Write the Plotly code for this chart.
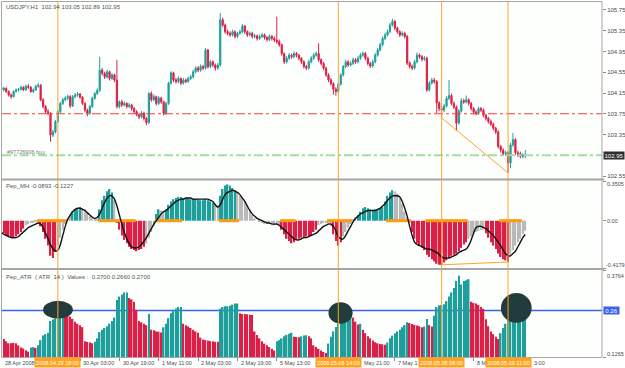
import plotly.graph_objects as go

# ---------------- data ----------------
SYMBOL_TITLE = "USDJPY,H1  102.94 103.05 102.89 102.95"
MH_TITLE = "Pep_MH -0.0893 -0.1227"
ATR_TITLE = "Pep_ATR  ( ATR  14 )  Values :  0.2700 0.2660 0.2700"
ORDER_TEXT = "#97726906 buy"

OPEN_FIRST = 104.25
CLOSE = [
    104.21, 104.24, 104.18, 104.11, 104.08, 104.18, 104.21, 104.22, 104.26, 104.21,
    104.28, 104.26, 104.18, 104.21, 104.28, 104.30, 104.02, 103.89, 103.79, 103.76,
    103.34, 103.40, 103.60, 103.79, 103.95, 104.02, 104.05, 104.08, 103.90, 104.08,
    104.11, 104.13, 104.07, 103.95, 103.82, 103.76, 103.89, 104.05, 104.14, 104.20,
    104.59, 104.53, 104.46, 104.56, 104.43, 104.50, 104.40, 103.89, 103.98, 103.92,
    103.95, 103.89, 103.92, 103.85, 103.79, 103.73, 103.69, 103.76, 103.66, 103.58,
    104.14, 104.02, 104.08, 103.95, 104.05, 103.98, 103.76, 103.95, 104.34, 104.54,
    104.40, 104.37, 104.43, 104.34, 104.40, 104.37, 104.43, 104.46, 104.56, 104.63,
    104.59, 104.66, 104.63, 104.98, 104.66, 104.75, 104.69, 104.63, 104.69, 105.56,
    105.46, 105.33, 105.30, 105.27, 105.33, 105.24, 105.30, 105.33, 105.44, 105.33,
    105.27, 105.30, 105.24, 105.25, 105.20, 105.24, 105.27, 105.22, 105.18, 105.24,
    105.20, 105.17, 105.14, 105.08, 104.91, 104.75, 104.82, 104.88, 104.85, 104.91,
    104.88, 104.82, 104.75, 104.66, 104.63, 104.75, 104.82, 104.88, 104.91, 104.79,
    104.72, 104.63, 104.50, 104.40, 104.33, 104.22, 104.18, 104.32, 104.50, 104.66,
    104.75, 104.69, 104.72, 104.79, 104.75, 104.82, 104.88, 104.91, 104.82, 104.72,
    104.67, 104.75, 104.88, 104.98, 105.08, 105.20, 105.27, 105.33, 105.46, 105.53,
    105.40, 105.33, 105.27, 105.30, 105.24, 104.73, 104.66, 104.63, 104.75, 104.88,
    104.85, 104.80, 104.82, 104.21, 104.34, 104.40, 104.37, 103.96, 103.85, 103.82,
    103.90, 104.05, 104.10, 103.95, 103.88, 103.57, 103.80, 104.00, 103.98, 104.02,
    103.95, 103.85, 103.78, 103.76, 103.85, 103.82, 103.72, 103.66, 103.60, 103.55,
    103.47, 103.40, 103.12, 103.05, 102.98, 103.00, 102.80, 103.15, 103.25, 103.00,
    102.98, 102.93, 102.94, 102.95,
]
HIGH = [
    104.28, 104.27, 104.26, 104.20, 104.14, 104.20, 104.24, 104.25, 104.29, 104.28,
    104.31, 104.32, 104.28, 104.24, 104.31, 104.34, 104.32, 104.05, 103.92, 103.84,
    103.78, 103.44, 103.63, 103.82, 103.98, 104.06, 104.09, 104.12, 104.11, 104.11,
    104.15, 104.17, 104.15, 104.09, 103.97, 103.85, 103.92, 104.08, 104.17, 104.24,
    104.85, 104.63, 104.56, 104.60, 104.58, 104.53, 104.52, 104.79, 104.01, 104.02,
    103.99, 103.97, 103.96, 103.94, 103.88, 103.82, 103.76, 103.80, 103.79, 103.69,
    104.17, 104.18, 104.12, 104.10, 104.09, 104.08, 104.00, 103.98, 104.37, 104.57,
    104.56, 104.44, 104.47, 104.45, 104.44, 104.43, 104.47, 104.50, 104.60, 104.66,
    104.67, 104.70, 104.69, 105.02, 105.00, 104.79, 104.78, 104.72, 104.73, 105.69,
    105.60, 105.49, 105.37, 105.34, 105.37, 105.36, 105.33, 105.37, 105.48, 105.46,
    105.36, 105.34, 105.33, 105.29, 105.28, 105.28, 105.31, 105.30, 105.25, 105.28,
    105.27, 105.24, 105.62, 105.18, 105.10, 104.93, 104.86, 104.92, 104.91, 104.95,
    104.94, 104.90, 104.84, 104.78, 104.69, 104.79, 104.86, 104.92, 104.95, 105.11,
    104.82, 104.75, 104.66, 104.53, 104.44, 104.36, 104.26, 104.35, 104.53, 104.69,
    104.79, 104.78, 104.76, 104.83, 104.82, 104.86, 104.92, 104.95, 104.94, 104.85,
    104.75, 104.79, 104.92, 105.02, 105.12, 105.24, 105.31, 105.37, 105.50, 105.58,
    105.56, 105.43, 105.36, 105.34, 105.33, 105.27, 104.76, 104.70, 104.79, 104.93,
    104.91, 104.88, 104.86, 104.85, 104.38, 104.44, 104.44, 104.40, 103.99, 103.90,
    103.94, 104.09, 104.40, 104.14, 103.99, 103.91, 103.84, 104.05, 104.04, 104.10,
    104.05, 103.98, 103.88, 103.82, 103.89, 103.88, 103.85, 103.75, 103.69, 103.64,
    103.58, 103.50, 103.43, 103.15, 103.08, 103.04, 103.03, 103.19, 103.38, 103.28,
    103.04, 103.02, 102.99, 103.05,
]
LOW = [
    104.17, 104.18, 104.15, 104.08, 104.04, 104.06, 104.16, 104.18, 104.20, 104.19,
    104.19, 104.23, 104.15, 104.15, 104.19, 104.25, 103.99, 103.85, 103.75, 103.72,
    103.21, 103.30, 103.37, 103.57, 103.76, 103.92, 103.99, 104.01, 103.86, 103.88,
    104.05, 104.08, 104.04, 103.92, 103.78, 103.70, 103.73, 103.86, 104.02, 104.11,
    104.17, 104.49, 104.42, 104.43, 104.39, 104.40, 104.36, 103.85, 103.85, 103.88,
    103.89, 103.85, 103.86, 103.81, 103.75, 103.70, 103.65, 103.66, 103.62, 103.53,
    103.55, 103.98, 103.99, 103.91, 103.92, 103.94, 103.72, 103.73, 103.92, 104.31,
    104.36, 104.33, 104.34, 104.30, 104.31, 104.34, 104.35, 104.40, 104.43, 104.53,
    104.55, 104.56, 104.59, 104.60, 104.62, 104.63, 104.65, 104.58, 104.60, 104.66,
    105.42, 105.29, 105.26, 105.23, 105.24, 105.20, 105.21, 105.27, 105.30, 105.29,
    105.23, 105.24, 105.20, 105.20, 105.16, 105.17, 105.21, 105.18, 105.14, 105.15,
    105.16, 105.13, 105.10, 105.04, 104.87, 104.71, 104.72, 104.79, 104.81, 104.82,
    104.84, 104.78, 104.71, 104.62, 104.59, 104.60, 104.72, 104.79, 104.85, 104.75,
    104.68, 104.59, 104.46, 104.36, 104.29, 104.12, 104.10, 104.15, 104.29, 104.47,
    104.63, 104.65, 104.66, 104.69, 104.71, 104.72, 104.79, 104.85, 104.78, 104.68,
    104.63, 104.64, 104.72, 104.85, 104.95, 105.05, 105.17, 105.24, 105.30, 105.43,
    105.36, 105.29, 105.23, 105.24, 105.20, 104.69, 104.62, 104.59, 104.60, 104.72,
    104.81, 104.76, 104.77, 104.17, 104.18, 104.31, 104.33, 103.76, 103.80, 103.67,
    103.78, 103.87, 104.01, 103.91, 103.84, 103.42, 103.54, 103.77, 103.94, 103.95,
    103.91, 103.81, 103.74, 103.72, 103.73, 103.78, 103.68, 103.62, 103.56, 103.51,
    103.43, 103.36, 103.08, 103.00, 102.94, 102.94, 102.61, 102.70, 103.11, 102.96,
    102.92, 102.89, 102.89, 102.89,
]

MH = [
    -0.09, -0.11, -0.13, -0.14, -0.15, -0.15, -0.14, -0.12, -0.10, -0.07,
    -0.04, -0.03, -0.02, -0.02, -0.01, -0.01, -0.05, -0.10, -0.16, -0.22,
    -0.31, -0.33, -0.27, -0.22, -0.15, -0.08, -0.03, 0.02, 0.05, 0.08,
    0.10, 0.11, 0.12, 0.11, 0.10, 0.07, 0.04, 0.02, 0.01, 0.02,
    0.10, 0.18, 0.22, 0.26, 0.28, 0.25, 0.18, -0.02, -0.08, -0.13,
    -0.17, -0.20, -0.23, -0.25, -0.26, -0.27, -0.26, -0.25, -0.23, -0.20,
    -0.15, -0.10, -0.05, 0.06, 0.10, 0.09, 0.08, 0.10, 0.14, 0.17,
    0.19, 0.20, 0.21, 0.21, 0.20, 0.20, 0.20, 0.19, 0.19, 0.19,
    0.19, 0.18, 0.18, 0.19, 0.18, 0.17, 0.16, 0.15, 0.14, 0.22,
    0.28, 0.31, 0.32, 0.31, 0.29, 0.27, 0.25, 0.22, 0.20, 0.17,
    0.13, 0.09, 0.05, 0.02, 0.00, -0.01, -0.02, -0.03, -0.03, -0.03,
    -0.03, -0.04, -0.04, -0.05, -0.08, -0.12, -0.16, -0.18, -0.20, -0.19,
    -0.17, -0.16, -0.15, -0.15, -0.14, -0.14, -0.13, -0.10, -0.08, -0.04,
    -0.03, -0.02, -0.02, -0.03, -0.05, -0.12, -0.18, -0.22, -0.19, -0.14,
    -0.10, -0.06, -0.03, 0.01, 0.03, 0.05, 0.08, 0.11, 0.12, 0.11,
    0.10, 0.09, 0.10, 0.10, 0.11, 0.12, 0.17, 0.22, 0.25, 0.27,
    0.26, 0.24, 0.20, 0.15, 0.08, 0.03, -0.02, -0.10, -0.16, -0.20,
    -0.22, -0.24, -0.26, -0.30, -0.32, -0.34, -0.36, -0.38, -0.39, -0.39,
    -0.37, -0.35, -0.33, -0.31, -0.30, -0.29, -0.27, -0.24, -0.21, -0.19,
    -0.16, -0.14, -0.12, -0.10, -0.09, -0.08, -0.08, -0.11, -0.15, -0.19,
    -0.22, -0.25, -0.29, -0.32, -0.34, -0.35, -0.365, -0.30, -0.26, -0.22,
    -0.19, -0.16, -0.12, -0.0893,
]
MH_SIGNAL = [
    -0.10, -0.12, -0.13, -0.14, -0.15, -0.15, -0.15, -0.14, -0.12, -0.10,
    -0.08, -0.06, -0.05, -0.04, -0.03, -0.02, -0.03, -0.06, -0.11, -0.16,
    -0.21, -0.25, -0.27, -0.26, -0.21, -0.13, -0.05, 0.01, 0.05, 0.08,
    0.10, 0.11, 0.11, 0.10, 0.09, 0.07, 0.05, 0.03, 0.02, 0.03,
    0.06, 0.11, 0.16, 0.20, 0.22, 0.22, 0.19, 0.13, 0.05, -0.03,
    -0.10, -0.16, -0.20, -0.23, -0.24, -0.24, -0.23, -0.21, -0.18, -0.15,
    -0.11, -0.07, -0.03, 0.00, 0.03, 0.06, 0.08, 0.09, 0.11, 0.13,
    0.15, 0.17, 0.18, 0.19, 0.19, 0.20, 0.20, 0.20, 0.19, 0.19,
    0.19, 0.19, 0.19, 0.19, 0.19, 0.18, 0.17, 0.14, 0.12, 0.14,
    0.19, 0.23, 0.25, 0.26, 0.27, 0.26, 0.25, 0.23, 0.20, 0.17,
    0.13, 0.09, 0.06, 0.04, 0.02, 0.01, 0.00, -0.01, -0.02, -0.02,
    -0.03, -0.03, -0.03, -0.04, -0.06, -0.08, -0.10, -0.12, -0.14, -0.16,
    -0.17, -0.17, -0.16, -0.15, -0.15, -0.14, -0.13, -0.12, -0.11, -0.09,
    -0.07, -0.05, -0.04, -0.03, -0.03, -0.05, -0.09, -0.14, -0.16, -0.16,
    -0.13, -0.09, -0.05, -0.01, 0.02, 0.04, 0.06, 0.07, 0.08, 0.09,
    0.09, 0.09, 0.09, 0.10, 0.11, 0.13, 0.15, 0.18, 0.20, 0.22,
    0.22, 0.22, 0.21, 0.17, 0.11, 0.04, -0.05, -0.13, -0.19, -0.21,
    -0.22, -0.23, -0.24, -0.25, -0.25, -0.26, -0.27, -0.28, -0.30, -0.32,
    -0.33, -0.33, -0.33, -0.32, -0.31, -0.30, -0.28, -0.27, -0.26, -0.25,
    -0.22, -0.17, -0.11, -0.06, -0.05, -0.05, -0.06, -0.07, -0.09, -0.11,
    -0.13, -0.16, -0.19, -0.22, -0.26, -0.29, -0.31, -0.31, -0.29, -0.27,
    -0.23, -0.19, -0.15, -0.1227,
]
# colour class of each histogram bar: R = falling red, T = rising teal, G = grey
MH_COLOR_RUNS = [
    ("R", 10), ("G", 6), ("R", 7), ("G", 6), ("T", 4), ("G", 7), ("T", 6), ("G", 1),
    ("R", 12), ("G", 4), ("T", 2), ("G", 2), ("T", 20), ("G", 2), ("T", 7), ("G", 18),
    ("R", 15), ("G", 6), ("R", 4), ("G", 6), ("T", 15), ("G", 7), ("R", 23), ("G", 7),
    ("R", 10), ("G", 7),
]
# orange markers sitting on the MH zero line (inclusive bar ranges)
ZERO_MARK_RANGES = [(15, 26), (40, 54), (63, 67), (68, 73), (89, 96), (114, 119),
                    (133, 142), (157, 166), (173, 189), (203, 211)]

ATR = [
    0.187, 0.178, 0.172, 0.166, 0.166, 0.167, 0.166, 0.160, 0.154, 0.151,
    0.146, 0.142, 0.154, 0.155, 0.153, 0.160, 0.175, 0.188, 0.192, 0.196,
    0.230, 0.234, 0.238, 0.242, 0.248, 0.254, 0.247, 0.246, 0.243, 0.236,
    0.228, 0.222, 0.218, 0.212, 0.172, 0.170, 0.168, 0.166, 0.170, 0.180,
    0.198, 0.205, 0.210, 0.215, 0.222, 0.230, 0.240, 0.290, 0.300, 0.306,
    0.312, 0.312, 0.296, 0.292, 0.285, 0.262, 0.230, 0.226, 0.222, 0.218,
    0.250, 0.205, 0.203, 0.200, 0.199, 0.197, 0.212, 0.222, 0.238, 0.252,
    0.260, 0.266, 0.270, 0.270, 0.222, 0.218, 0.214, 0.210, 0.205, 0.200,
    0.196, 0.182, 0.177, 0.175, 0.174, 0.172, 0.172, 0.170, 0.170, 0.265,
    0.270, 0.272, 0.272, 0.274, 0.277, 0.280, 0.280, 0.252, 0.250, 0.250,
    0.249, 0.248, 0.247, 0.200, 0.190, 0.180, 0.172, 0.165, 0.160, 0.155,
    0.150, 0.145, 0.172, 0.175, 0.180, 0.186, 0.190, 0.193, 0.196, 0.185,
    0.184, 0.183, 0.186, 0.188, 0.189, 0.186, 0.180, 0.160, 0.155, 0.150,
    0.145, 0.141, 0.138, 0.165, 0.185, 0.200, 0.213, 0.222, 0.228, 0.235,
    0.240, 0.245, 0.248, 0.240, 0.228, 0.220, 0.222, 0.205, 0.195, 0.186,
    0.180, 0.174, 0.169, 0.166, 0.164, 0.163, 0.162, 0.168, 0.180, 0.188,
    0.195, 0.200, 0.205, 0.212, 0.218, 0.226, 0.224, 0.221, 0.219, 0.217,
    0.215, 0.212, 0.214, 0.236, 0.218, 0.214, 0.245, 0.270, 0.275, 0.276,
    0.278, 0.287, 0.300, 0.312, 0.325, 0.345, 0.360, 0.335, 0.345, 0.347,
    0.350, 0.285, 0.282, 0.280, 0.276, 0.270, 0.265, 0.235, 0.215, 0.200,
    0.192, 0.185, 0.178, 0.195, 0.210, 0.222, 0.236, 0.250, 0.256, 0.260,
    0.263, 0.266, 0.268, 0.270,
]
ATR_COLOR_RUNS = [
    ("T", 1), ("R", 11), ("T", 2), ("R", 1), ("T", 11), ("R", 12), ("T", 14), ("R", 8),
    ("T", 1), ("R", 5), ("T", 8), ("R", 15), ("T", 8), ("R", 15), ("T", 7), ("R", 3),
    ("T", 3), ("R", 8), ("T", 10), ("R", 3), ("T", 1), ("R", 10), ("T", 9), ("R", 6),
    ("T", 2), ("R", 2), ("T", 15), ("R", 12), ("T", 11),
]
ATR_LEVEL = 0.26
ATR_LEVEL_TEXT = "0.26"

RED_LEVEL = 103.75
BUY_LEVEL = 102.95
PRICE_TICKS = [105.75, 105.35, 104.95, 104.55, 104.15, 103.75, 103.35, 102.55]
PRICE_RANGE = [102.502, 105.904]
MH_RANGE = [-0.4179, 0.3505]
ATR_RANGE = [0.1265, 0.3764]

MARK_BARS = [23, 137, 179, 206]
MARK_LABELS = ["2008.04.29 18:00", "2008.05.06 14:00", "2008.05.08 08:00", "2008.05.09 11:00"]
TICK_BARS = [0, 16, 32, 48, 64, 80, 96, 112, 128, 144, 160, 176, 192, 208]
# what is left readable of each time label once the orange time boxes are drawn over it
TICK_LABELS_SHOWN = ["28 Apr 2008", "", "30 Apr 03:00", "30 Apr 19:00", "1 May 11:00",
                     "2 May 03:00", "2 May 19:00", "5 May 13:00", "", "May 21:00",
                     "7 May 1", "", "8 M", "3:00"]

PRICE_DIV_BARS = [179, 206]
PRICE_DIV_VALS = [103.67, 102.61]
MH_DIV_BARS = [179, 206]
MH_DIV_VALS = [-0.39, -0.365]

# dark ellipses drawn on the ATR pane: (bar_from, bar_to, atr_low, atr_high)
ATR_BLOBS = [(17.0, 29.1, 0.237, 0.288), (133.0, 142.8, 0.222, 0.284), (203.1, 215.6, 0.225, 0.310)]

assert len(CLOSE) == len(HIGH) == len(LOW) == len(MH) == len(MH_SIGNAL) == len(ATR)

# ---------------- styling / layout ----------------
W, H = 625, 368
TEAL = "#1f9f9b"
RED = "#dc1f46"
GREY = "#b9b9b9"
ORANGE = "#ffa32e"
TXT = "#4a4a4a"
FONT = "Liberation Sans"
BAR_PX = 2.46
X0_PX = 1.3
PLOT_L, PLOT_R = 2, 602
BOX_W = 45


def py(pix):
    return 1 - pix / H


def px(pix):
    return pix / W


def bar_px(b):
    return X0_PX + BAR_PX * b


def expand(runs):
    out = []
    for c, n in runs:
        out += [c] * n
    return out


cmap = {"R": RED, "T": TEAL, "G": GREY}
mh_colors = [cmap[c] for c in expand(MH_COLOR_RUNS)]
atr_colors = [cmap[c] for c in expand(ATR_COLOR_RUNS)]

n = len(CLOSE)
x = list(range(n))
OPEN = [OPEN_FIRST] + CLOSE[:-1]

fig = go.Figure()
fig.add_trace(go.Candlestick(
    x=x, open=OPEN, high=HIGH, low=LOW, close=CLOSE,
    increasing=dict(line=dict(color=TEAL, width=1), fillcolor=TEAL),
    decreasing=dict(line=dict(color=RED, width=1), fillcolor=RED),
    whiskerwidth=0, xaxis="x", yaxis="y", hoverinfo="skip", showlegend=False,
))
fig.add_trace(go.Bar(x=x, y=MH, marker=dict(color=mh_colors, line=dict(width=0)),
                     width=0.62, xaxis="x", yaxis="y2", hoverinfo="skip", showlegend=False))
zx = []
for a, b in ZERO_MARK_RANGES:
    zx += list(range(a, b + 1))
fig.add_trace(go.Scatter(x=zx, y=[0] * len(zx), mode="markers",
                         marker=dict(symbol="square", size=3, color="#ff9a10", line=dict(width=0)),
                         xaxis="x", yaxis="y2", hoverinfo="skip", showlegend=False))
fig.add_trace(go.Scatter(x=x, y=MH_SIGNAL, mode="lines", line=dict(color="#111111", width=1.4, shape="spline"),
                         xaxis="x", yaxis="y2", hoverinfo="skip", showlegend=False))
fig.add_trace(go.Scatter(x=MH_DIV_BARS, y=MH_DIV_VALS, mode="lines", line=dict(color=ORANGE, width=1),
                         xaxis="x", yaxis="y2", hoverinfo="skip", showlegend=False))
fig.add_trace(go.Scatter(x=PRICE_DIV_BARS, y=PRICE_DIV_VALS, mode="lines", line=dict(color=ORANGE, width=1),
                         xaxis="x", yaxis="y", hoverinfo="skip", showlegend=False))
fig.add_trace(go.Bar(x=x, y=ATR, marker=dict(color=atr_colors, line=dict(width=0)),
                     width=0.62, xaxis="x", yaxis="y3", hoverinfo="skip", showlegend=False))

xr = [(PLOT_L - X0_PX) / BAR_PX, (PLOT_R - X0_PX) / BAR_PX]
dom_x = [px(PLOT_L), px(PLOT_R)]
ax_common = dict(showgrid=False, zeroline=False, fixedrange=True, side="right", anchor="x",
                 ticks="outside", ticklen=3, tickcolor="#8c8c8c", showline=False,
                 tickfont=dict(family=FONT, size=6, color=TXT))

fig.update_layout(
    width=W, height=H, margin=dict(l=0, r=0, t=0, b=0),
    paper_bgcolor="#ffffff", plot_bgcolor="#fdfffd",
    barmode="overlay", showlegend=False, hovermode=False,
    font=dict(family=FONT, size=6, color=TXT),
    xaxis=dict(domain=dom_x, range=xr, anchor="y3", showgrid=False, zeroline=False,
               showticklabels=False, ticks="outside", ticklen=3, tickcolor="#8c8c8c",
               tickvals=TICK_BARS, fixedrange=True, rangeslider=dict(visible=False)),
    yaxis=dict(domain=[py(178.5), py(2)], range=PRICE_RANGE, tickvals=PRICE_TICKS,
               ticktext=[f"{v:.2f}" for v in PRICE_TICKS], showticklabels=True, **ax_common),
    yaxis2=dict(domain=[py(268), py(181)], range=MH_RANGE, tickvals=[MH_RANGE[1], 0, MH_RANGE[0]],
                showticklabels=False, **ax_common),
    yaxis3=dict(domain=[py(357), py(270)], range=ATR_RANGE, tickvals=[ATR_RANGE[1], ATR_LEVEL, ATR_RANGE[0]],
                showticklabels=False, **ax_common),
)

shapes = []
shapes.append(dict(type="line", xref="paper", yref="y", x0=dom_x[0], x1=dom_x[1], y0=RED_LEVEL, y1=RED_LEVEL,
                   line=dict(color="#ff3b3b", width=1, dash="dashdot")))
shapes.append(dict(type="line", xref="paper", yref="y", x0=dom_x[0], x1=dom_x[1], y0=BUY_LEVEL, y1=BUY_LEVEL,
                   line=dict(color="#9fe09f", width=2, dash="dashdot")))
shapes.append(dict(type="line", xref="paper", yref="y3", x0=dom_x[0], x1=dom_x[1], y0=ATR_LEVEL, y1=ATR_LEVEL,
                   line=dict(color="#3a62ea", width=1.5), layer="below"))
for b0, b1, v0, v1 in ATR_BLOBS:
    shapes.append(dict(type="circle", xref="x", yref="y3", x0=b0, x1=b1, y0=v0, y1=v1,
                       fillcolor="#223b3b", line=dict(width=0), layer="above"))
for b in MARK_BARS:
    shapes.append(dict(type="line", xref="x", yref="paper", x0=b, x1=b, y0=py(357), y1=py(2),
                       line=dict(color=ORANGE, width=1)))
shapes.append(dict(type="rect", xref="paper", yref="paper", x0=px(PLOT_L - 0.5), x1=px(PLOT_R),
                   y0=py(357.5), y1=py(1.5), line=dict(color="#a6a6a6", width=1)))
for ysep in (179.6, 269.0):
    shapes.append(dict(type="line", xref="paper", yref="paper", x0=px(PLOT_L - 0.5), x1=px(PLOT_R + 2),
                       y0=py(ysep), y1=py(ysep), line=dict(color="#a6a6a6", width=2)))
fig.update_layout(shapes=shapes)

ann = []
hdr = dict(xref="paper", yref="paper", xanchor="left", yanchor="middle", showarrow=False,
           font=dict(family=FONT, size=6, color="#555555"))
ann.append(dict(x=px(4), y=py(7.5), text=SYMBOL_TITLE, **hdr))
ann.append(dict(x=px(4), y=py(186.5), text=MH_TITLE, **hdr))
ann.append(dict(x=px(4), y=py(276.5), text=ATR_TITLE.replace(" ", "&nbsp;"), **hdr))
ann.append(dict(x=px(5), y=py(151.5), text=ORDER_TEXT, xref="paper", yref="paper", xanchor="left",
                yanchor="middle", showarrow=False, font=dict(family=FONT, size=5.5, color="#7a7a7a")))

lab = dict(xref="paper", yref="paper", xanchor="left", yanchor="middle", showarrow=False,
           font=dict(family=FONT, size=5.5, color=TXT))
ann.append(dict(x=px(604.5), y=py(184), text=f"{MH_RANGE[1]:.4f}", **lab))
ann.append(dict(x=px(604.5), y=1 - (268 - (0 - MH_RANGE[0]) / (MH_RANGE[1] - MH_RANGE[0]) * 87) / H,
                text="0.00", **lab))
ann.append(dict(x=px(603.5), y=py(264.5), text=f"{MH_RANGE[0]:.4f}", **lab))
ann.append(dict(x=px(604.5), y=py(276), text=f"{ATR_RANGE[1]:.4f}", **lab))
ann.append(dict(x=px(604.5), y=py(354), text=f"{ATR_RANGE[0]:.4f}", **lab))
ann.append(dict(x=px(603), y=BUY_LEVEL, xref="paper", yref="y", text=f"{BUY_LEVEL:.2f}", xanchor="left",
                yanchor="middle", showarrow=False, bgcolor="#2e2e2e", borderpad=0.5,
                font=dict(family=FONT, size=6, color="#ffffff")))
ann.append(dict(x=px(603), y=ATR_LEVEL, xref="paper", yref="y3", text=ATR_LEVEL_TEXT, xanchor="left",
                yanchor="middle", showarrow=False, bgcolor="#3a62ea", borderpad=0.5, width=14,
                font=dict(family=FONT, size=6, color="#ffffff")))

# time axis labels: text starts just right of its tick, or right after a box that covers its start
box_spans = [(bar_px(b) - BOX_W / 2, bar_px(b) + BOX_W / 2) for b in MARK_BARS]
for b, t in zip(TICK_BARS, TICK_LABELS_SHOWN):
    if not t:
        continue
    start = bar_px(b) + 1.2
    for l0, l1 in box_spans:
        if l0 <= start <= l1:
            start = l1 + 1.0
    ann.append(dict(x=px(start), y=py(362.5), xref="paper", yref="paper", text=t, xanchor="left",
                    yanchor="middle", showarrow=False, font=dict(family=FONT, size=5.5, color=TXT)))
for b, t in zip(MARK_BARS, MARK_LABELS):
    ann.append(dict(x=b, y=py(362.5), xref="x", yref="paper", text=t, xanchor="center", yanchor="middle",
                    showarrow=False, bgcolor="#ffa21f", width=BOX_W - 1, height=8, borderpad=0.5,
                    font=dict(family=FONT, size=5.5, color="#ffffff")))
fig.update_layout(annotations=ann)

fig.write_html("out.html")
